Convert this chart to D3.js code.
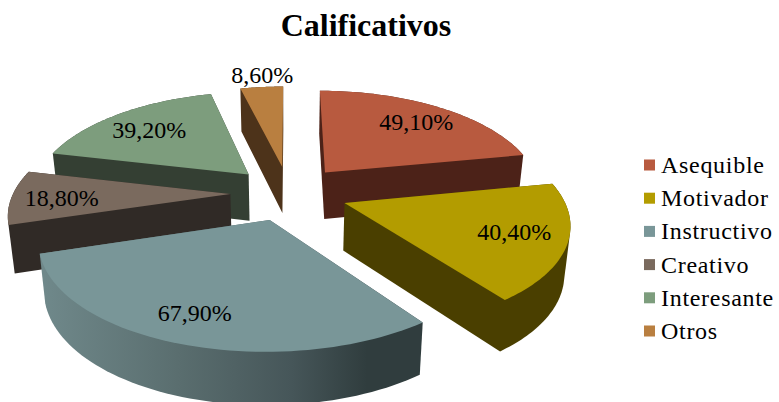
<!DOCTYPE html>
<html><head><meta charset="utf-8">
<script src="https://cdn.jsdelivr.net/npm/d3@7/dist/d3.min.js"></script>
<style>html,body{margin:0;padding:0;background:#fff}svg{display:block}text{font-family:"Liberation Serif",serif;fill:#000}</style>
</head><body><svg id="c" width="779" height="402"></svg>
<script>
const categories = ["Asequible","Motivador","Instructivo","Creativo","Interesante","Otros"];
const values = [49.1,40.4,67.9,18.8,39.2,8.6];
const labels = ["49,10%","40,40%","67,90%","18,80%","39,20%","8,60%"];
const topColors = ["#B85A3F","#B39C00","#799698","#7A6A5E","#7D9D7D","#B97F40"];
const sideColors = ["#4C2218","#4A3F00","url(#g)","#302A26","#343F33","#4D331A"];
const labelFrac = [.76,.77,.79,.77,.73,1.17];
const labelTurn = [1,-1,2,-1,-1,1];
const paintOrder = [5,4,0,3,1,2];

const cx=289, cy=193, R=217, KR=101, kx=.17, ky=.16, ex=.27, depth=47, shrink=.022;
const svg=d3.select("#c");
const grad=svg.append("defs").append("linearGradient").attr("id","g").attr("gradientUnits","userSpaceOnUse")
  .attr("x1",45).attr("x2",424).attr("y1",0).attr("y2",0);
[[0,"#6F888A"],[.35,"#5A6E6F"],[.65,"#465659"],[.85,"#303D3E"],[1,"#303D3E"]].forEach(s=>grad.append("stop").attr("offset",s[0]).attr("stop-color",s[1]));

const proj=(u,v)=>[cx+R*u/(1+kx*v), cy-KR*v/(1+ky*v)];
const drop=p=>[cx+(p[0]-cx)*(1-shrink), p[1]+depth+.04*(p[1]-190)];
const line=d3.line();
const arcs=d3.pie().sort(null).value(d=>d)(values);
paintOrder.forEach(i=>{
  const a=arcs[i], m=(a.startAngle+a.endAngle)/2;
  const ox=ex*Math.sin(m), oy=ex*Math.cos(m);
  const steps=d3.range(0,61).map(j=>a.startAngle+(a.endAngle-a.startAngle)*j/60);
  const outline=[proj(ox,oy),...steps.map(t=>proj(ox+Math.sin(t),oy+Math.cos(t)))];
  const g=svg.append("g");
  const hull=d3.polygonHull(outline.concat(outline.map(drop)));
  g.append("path").attr("d",line(hull)+"Z").attr("fill",sideColors[i]);
  g.append("path").attr("d",line(outline)+"Z").attr("fill",topColors[i]);
});
arcs.forEach((a,i)=>{
  const m=(a.startAngle+a.endAngle)/2, f=labelFrac[i], t=m+labelTurn[i]*Math.PI/180;
  const p=proj(ex*Math.sin(m)+f*Math.sin(t),ex*Math.cos(m)+f*Math.cos(t));
  svg.append("text").attr("x",p[0]).attr("y",p[1]).attr("dy","0.33em").attr("text-anchor","middle")
    .attr("font-size",24).text(labels[i]);
});
svg.append("text").attr("x",366).attr("y",36).attr("text-anchor","middle").attr("font-size",32).attr("font-weight","bold").text("Calificativos");
const ly=d3.scalePoint().domain(categories).range([165,331]);
categories.forEach((c,i)=>{
  svg.append("rect").attr("x",644).attr("y",ly(c)-5.5).attr("width",11).attr("height",11).attr("fill",topColors[i]);
  svg.append("text").attr("x",661).attr("y",ly(c)).attr("dy","0.33em").attr("font-size",24).attr("letter-spacing",.7).text(c);
});
</script></body></html>
